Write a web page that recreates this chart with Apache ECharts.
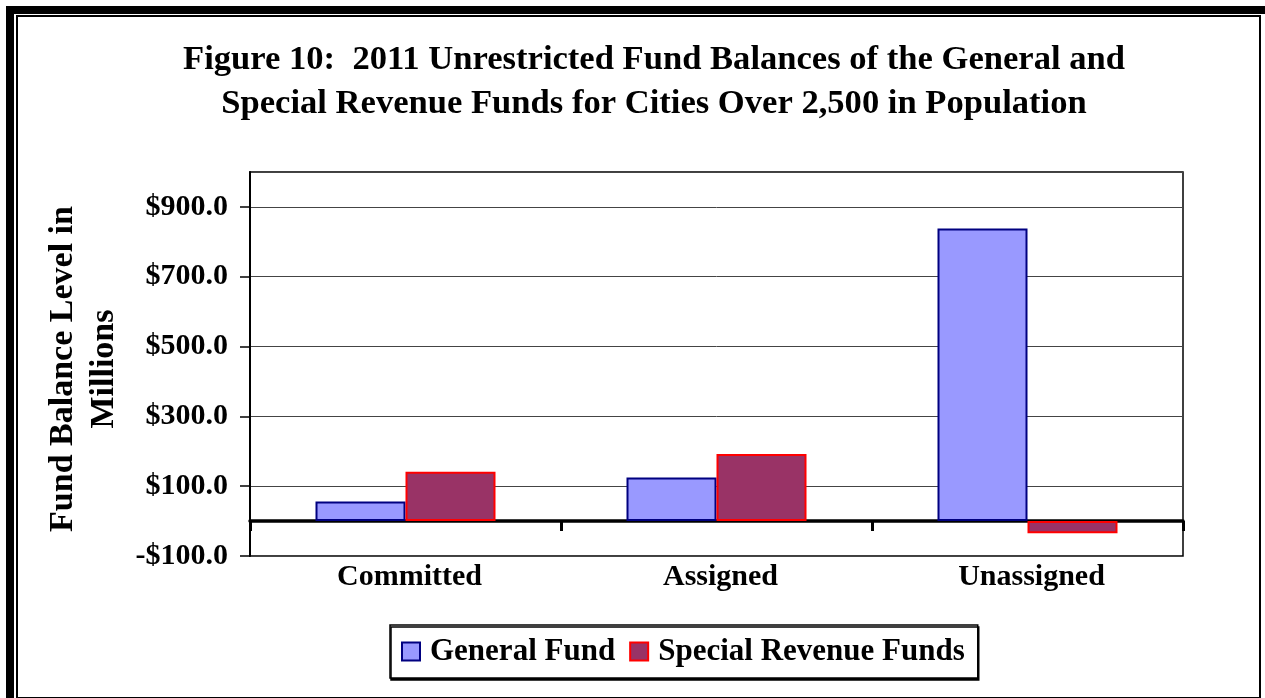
<!DOCTYPE html>
<html>
<head>
<meta charset="utf-8">
<title>Figure 10</title>
<script src="https://cdn.jsdelivr.net/npm/echarts@6/dist/echarts.min.js"></script>
<style>
  html, body { margin: 0; padding: 0; background: #fff; overflow: hidden; }
  #chart { position: absolute; left: 0; top: 0; width: 1265px; height: 698px; }
  /* double frame round the picture */
  #frameOuter {
    position: absolute; left: 6px; top: 6px; width: 1270px; height: 700px;
    border: 8px solid #000; pointer-events: none;
  }
  #frameInner {
    position: absolute; left: 16px; top: 15px; width: 1241px; height: 680px;
    border: 2px solid #000; pointer-events: none;
  }
</style>
</head>
<body>
<div id="chart"></div>
<div id="frameOuter"></div>
<div id="frameInner"></div>
<script>
// data (millions of dollars)
const categories = ['Committed', 'Assigned', 'Unassigned'];
const generalFund = [56, 125, 838];
const specialRevenue = [141, 192, -35];
const seriesNames = ['General Fund', 'Special Revenue Funds'];

const serif = '"Liberation Serif", "Times New Roman", serif';

const money = (v) => (v < 0 ? '-$' + Math.abs(v).toFixed(1) : '$' + v.toFixed(1));

let chart = echarts.init(document.getElementById('chart'));
chart.setOption({
  animation: false,
  backgroundColor: '#fff',
  title: {
    text: 'Figure 10:  2011 Unrestricted Fund Balances of the General and\nSpecial Revenue Funds for Cities Over 2,500 in Population',
    left: 649,
    textAlign: 'center',
    top: 33,
    textStyle: {
      fontFamily: serif,
      fontSize: 34.6,
      fontWeight: 'bold',
      lineHeight: 44,
      color: '#000'
    }
  },
  legend: {
    data: seriesNames,
    icon: 'rect',
    left: 390,
    top: 625,
    padding: [11, 13, 11, 11],
    itemGap: 14,
    itemWidth: 18,
    itemHeight: 18,
    borderColor: '#000',
    borderWidth: 1.5,
    backgroundColor: '#fff',
    shadowColor: '#000',
    shadowOffsetX: 1,
    shadowOffsetY: 2,
    textStyle: {
      fontFamily: serif,
      fontSize: 31,
      fontWeight: 'bold',
      color: '#000',
      padding: [0, 0, 0, 5]
    }
  },
  grid: {
    left: 250,
    right: 82,
    top: 172,
    bottom: 142,
    show: true,
    borderColor: '#000',
    borderWidth: 1.5
  },
  xAxis: [
    {
      // zero line with the tick marks between groups
      type: 'category',
      data: categories,
      position: 'bottom',
      axisLine: { onZero: true, lineStyle: { color: '#000', width: 3.5 } },
      axisTick: { show: true, inside: false, length: 10, lineStyle: { color: '#000', width: 3 } },
      axisLabel: { show: false },
      splitLine: { show: false }
    },
    {
      // category names under the plot
      type: 'category',
      data: categories,
      position: 'bottom',
      axisLine: { show: false, onZero: false },
      axisTick: { show: false },
      axisLabel: {
        margin: 6,
        fontFamily: serif,
        fontSize: 30,
        fontWeight: 'bold',
        color: '#000',
        padding: [0, 0, 0, 8]
      }
    }
  ],
  yAxis: {
    type: 'value',
    min: -100,
    max: 1000,
    interval: 200,
    name: 'Fund Balance Level in\nMillions',
    nameLocation: 'middle',
    nameRotate: 90,
    nameGap: 125,
    nameTextStyle: {
      fontFamily: serif,
      fontSize: 34,
      fontWeight: 'bold',
      lineHeight: 41,
      color: '#000',
      padding: [0, 10, 0, 0]
    },
    axisLine: { show: true, lineStyle: { color: '#000', width: 2 } },
    axisTick: { show: true, length: 10, lineStyle: { color: '#000', width: 1.5 } },
    axisLabel: {
      margin: 22,
      showMaxLabel: false,
      formatter: money,
      fontFamily: serif,
      fontSize: 30,
      fontWeight: 'bold',
      color: '#000'
    },
    splitLine: { show: true, lineStyle: { color: '#444', width: 1 } }
  },
  series: [
    {
      name: seriesNames[0],
      type: 'bar',
      xAxisIndex: 0,
      barWidth: 90,
      barGap: '0%',
      data: generalFund,
      itemStyle: { color: '#9999FF', borderColor: '#000080', borderWidth: 2 }
    },
    {
      name: seriesNames[1],
      type: 'bar',
      xAxisIndex: 0,
      barWidth: 90,
      barGap: '0%',
      data: specialRevenue,
      itemStyle: { color: '#993366', borderColor: '#FF0000', borderWidth: 2 }
    }
  ]
});
</script>
</body>
</html>
